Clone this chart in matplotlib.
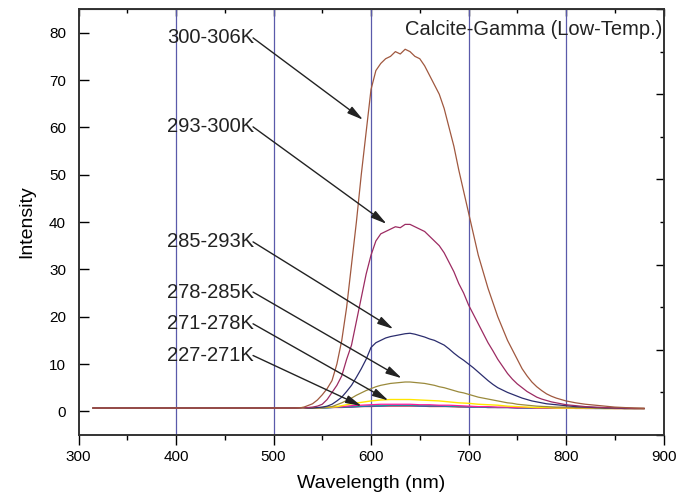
"""
Calcite-Gamma low temperature emission spectra
"""
import matplotlib
matplotlib.use('Agg')
import matplotlib.pyplot as plt
from matplotlib.ticker import MultipleLocator

plt.rcParams['font.family'] = ['Liberation Sans', 'DejaVu Sans']

# flat part 315-530 nm, shared by all spectra
wl_base = [315] + list(range(320, 540, 10))
base = [0.7, 0.7, 0.7, 0.7, 0.7, 0.7, 0.7, 0.7, 0.7, 0.7, 0.7, 0.7,
        0.7, 0.7, 0.7, 0.7, 0.7, 0.7, 0.7, 0.7, 0.7, 0.7, 0.8]

# band region 535-800 nm (5 nm) and tail 810-880 nm (10 nm)
wl_band = list(range(535, 805, 5))
wl_tail = list(range(810, 890, 10))
wl = wl_base + wl_band + wl_tail

i_300_306 = [1.2, 1.6, 2.4, 3.5, 4.8, 6.5, 10, 15, 22, 31,
             40, 50, 59, 68, 72, 73.5, 74.5, 75, 76, 75.5,
             76.5, 76, 75, 74.5, 73, 71, 69, 67, 64, 60,
             56, 51, 46.5, 42, 37.5, 33, 29.5, 26, 23, 20,
             17.5, 15, 13, 11, 9, 7.5, 6.2, 5.2, 4.4, 3.7,
             3.2, 2.8, 2.5, 2.2,
             1.8, 1.5, 1.3, 1.1, 0.9, 0.8, 0.7, 0.6]
i_293_300 = [0.8, 0.9, 1.1, 1.5, 2.5, 4, 5.5, 7.5, 11, 14,
             19, 24, 29, 33, 36, 37.5, 38, 38.5, 39, 38.8,
             39.5, 39.5, 39, 38.5, 38, 37, 36, 35, 33.5, 31.5,
             29.5, 27, 25, 22.5, 20.5, 18.5, 16.5, 14.5, 12.8, 11,
             9.5, 8, 6.8, 5.8, 5, 4.2, 3.6, 3, 2.6, 2.3,
             2.0, 1.8, 1.6, 1.4,
             1.2, 1.0, 0.9, 0.8, 0.7, 0.7, 0.6, 0.6]
i_285_293 = [0.7, 0.7, 0.8, 0.9, 1.1, 1.5, 2.2, 3, 4.2, 5.5,
             7.2, 9, 11, 13.5, 14.5, 15, 15.5, 15.8, 16, 16.2,
             16.4, 16.5, 16.3, 16, 15.7, 15.3, 15, 14.5, 14, 13.2,
             12.3, 11.5, 10.8, 10, 9.2, 8.3, 7.4, 6.5, 5.7, 5,
             4.5, 4, 3.6, 3.2, 2.8, 2.5, 2.2, 2, 1.8, 1.6,
             1.5, 1.4, 1.3, 1.2,
             1.0, 0.9, 0.8, 0.7, 0.7, 0.6, 0.6, 0.6]
i_278_285 = [0.7, 0.7, 0.75, 0.8, 0.9, 1.0, 1.4, 1.8, 2.3, 2.8,
             3.4, 3.9, 4.4, 4.8, 5.2, 5.5, 5.7, 5.9, 6.0, 6.1,
             6.2, 6.2, 6.1, 6.0, 5.9, 5.7, 5.5, 5.2, 5.0, 4.7,
             4.4, 4.1, 3.9, 3.6, 3.3, 3.0, 2.8, 2.6, 2.4, 2.2,
             2.0, 1.8, 1.7, 1.5, 1.4, 1.3, 1.2, 1.1, 1.05, 1.0,
             0.95, 0.9, 0.9, 0.9,
             0.8, 0.8, 0.7, 0.7, 0.7, 0.6, 0.6, 0.6]
i_271_278 = [0.7, 0.7, 0.75, 0.8, 0.85, 0.9, 1.0, 1.2, 1.4, 1.6,
             1.75, 1.9, 2.05, 2.2, 2.3, 2.4, 2.45, 2.5, 2.5, 2.5,
             2.5, 2.5, 2.45, 2.4, 2.35, 2.3, 2.25, 2.2, 2.1, 2.0,
             1.9, 1.8, 1.75, 1.7, 1.6, 1.5, 1.45, 1.4, 1.35, 1.3,
             1.2, 1.1, 1.05, 1.0, 0.95, 0.9, 0.85, 0.8, 0.8, 0.8,
             0.75, 0.7, 0.7, 0.7,
             0.7, 0.7, 0.7, 0.6, 0.6, 0.6, 0.6, 0.6]

# the 227-271K group lying on the baseline (540-880 nm, 10 nm)
wl_low = wl_base + list(range(540, 890, 10))
i_pink = [0.7, 0.8, 0.9, 1.0, 1.2, 1.3, 1.4, 1.5, 1.5, 1.5, 1.5, 1.4, 1.4, 1.3, 1.3,
          1.2, 1.1, 1.0, 1.0, 0.9, 0.9, 0.8, 0.8, 0.7, 0.7, 0.7, 0.7, 0.7, 0.7, 0.7,
          0.7, 0.6, 0.6, 0.6, 0.6]
i_teal = [0.7, 0.7, 0.8, 0.9, 1.0, 1.1, 1.2, 1.2, 1.3, 1.3, 1.3, 1.2, 1.2, 1.2, 1.1,
          1.0, 1.0, 0.9, 0.9, 0.8, 0.8, 0.8, 0.7, 0.7, 0.7, 0.7, 0.7, 0.7, 0.7, 0.6,
          0.6, 0.6, 0.6, 0.6, 0.6]
i_red = [0.7, 0.7, 0.8, 0.8, 0.9, 1.0, 1.0, 1.1, 1.1, 1.1, 1.1, 1.1, 1.0, 1.0, 1.0,
         0.9, 0.9, 0.9, 0.8, 0.8, 0.8, 0.7, 0.7, 0.7, 0.7, 0.7, 0.7, 0.6, 0.6, 0.6,
         0.6, 0.6, 0.6, 0.6, 0.6]
i_blue = [0.7, 0.7, 0.8, 0.9, 0.9, 1.0, 1.1, 1.1, 1.2, 1.2, 1.2, 1.1, 1.1, 1.1, 1.0,
          1.0, 0.9, 0.9, 0.8, 0.8, 0.8, 0.7, 0.7, 0.7, 0.7, 0.7, 0.7, 0.7, 0.6, 0.6,
          0.6, 0.6, 0.6, 0.6, 0.6]

labels = ['300-306K', '293-300K', '285-293K', '278-285K', '271-278K', '227-271K']
label_y = [78.9, 60.1, 35.8, 25.2, 18.5, 11.8]
tip_x = [591.8, 616, 622.9, 631.5, 617.8, 590.4]
tip_y = [61.6, 39.6, 17.4, 7.0, 2.3, 1.1]

fig = plt.figure(figsize=(6.87, 5.01), dpi=100)
ax = fig.add_axes([0.1143, 0.1317, 0.8515, 0.8503])

for g in [400, 500, 600, 700, 800]:
	ax.axvline(g, color='#5a5aaa', lw=0.9, zorder=1)

ax.plot(wl_low, base + i_red, color='#e03030', lw=0.8)
ax.plot(wl_low, base + i_blue, color='#3050c0', lw=0.8)
ax.plot(wl_low, base + i_teal, color='#1a9a9a', lw=0.8)
ax.plot(wl_low, base + i_pink, color='#ff1a9a', lw=0.9)
ax.plot(wl, base + i_271_278, color='#ffe600', lw=1.0)
ax.plot(wl, base + i_278_285, color='#9a8a3c', lw=0.9)
ax.plot(wl, base + i_285_293, color='#2b2d6e', lw=0.9)
ax.plot(wl, base + i_293_300, color='#9c2b62', lw=0.9)
ax.plot(wl, base + i_300_306, color='#a0583f', lw=0.9)

for lab, ly, tx, ty in zip(labels, label_y, tip_x, tip_y):
	ax.text(391, ly, lab, fontsize=14.5, ha='left', va='center', color='#222222')
	ax.annotate('', xy=(tx, ty), xytext=(479, ly),
	            arrowprops=dict(arrowstyle='-|>,head_length=0.8,head_width=0.2',
	                            color='#222222', lw=1.0, mutation_scale=12,
	                            shrinkA=0, shrinkB=0))

ax.text(0.998, 0.951, 'Calcite-Gamma (Low-Temp.)', transform=ax.transAxes,
        fontsize=14.5, ha='right', va='center', color='#222222')

ax.set_xlim(300, 900)
ax.set_ylim(-5, 85)
ax.xaxis.set_major_locator(MultipleLocator(100))
ax.xaxis.set_minor_locator(MultipleLocator(50))
ax.set_yticks(range(0, 90, 10))
ax.tick_params(axis='x', which='major', direction='out', length=7, width=1.0, labelsize=11, pad=4)
ax.tick_params(axis='x', which='minor', direction='out', length=3.5, width=1.0)
ax.tick_params(axis='y', which='major', direction='in', length=7, width=1.0, labelsize=11, pad=9)
ax.set_xlabel('Wavelength (nm)', fontsize=14, labelpad=8)
ax.set_ylabel('Intensity', fontsize=14, labelpad=10)
for s in ax.spines.values():
	s.set_linewidth(1.2)
	s.set_color('#333333')

top = ax.secondary_xaxis('top')
top.xaxis.set_major_locator(MultipleLocator(100))
top.xaxis.set_minor_locator(MultipleLocator(50))
top.tick_params(which='major', direction='in', length=5, width=1.0, labeltop=False)
top.tick_params(which='minor', direction='in', length=3, width=1.0)

ax2 = ax.twinx()
ax2.set_ylim(0, 1)
ax2.yaxis.set_major_locator(MultipleLocator(0.2))
ax2.yaxis.set_minor_locator(MultipleLocator(0.1))
ax2.tick_params(which='major', direction='in', length=6, width=1.0, labelright=False)
ax2.tick_params(which='minor', direction='in', length=3, width=1.0)
for s in ax2.spines.values():
	s.set_linewidth(1.2)
	s.set_color('#333333')

fig.savefig('out.png', dpi=100)
